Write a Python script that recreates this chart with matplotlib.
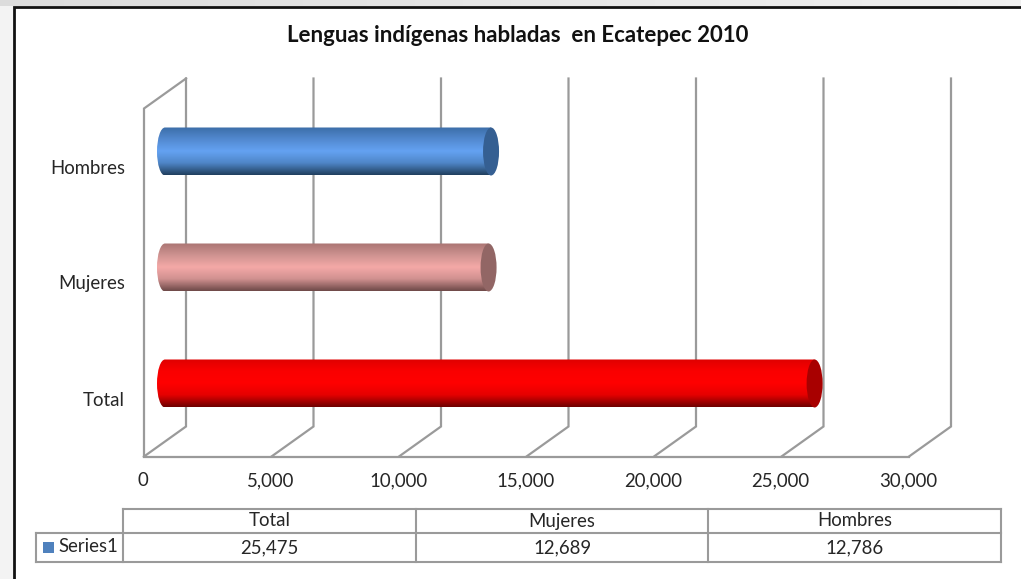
import numpy as np
import matplotlib
matplotlib.use("Agg")
import matplotlib.pyplot as plt
from matplotlib.colors import LinearSegmentedColormap
from matplotlib.patches import Ellipse, PathPatch, Rectangle
from matplotlib.path import Path as MplPath

plt.rcParams["font.family"] = ["Lato", "DejaVu Sans"]

TITLE = "Lenguas indígenas habladas  en Ecatepec 2010"
categories = ["Total", "Mujeres", "Hombres"]
values = [25475, 12689, 12786]
x_ticks = [0, 5000, 10000, 15000, 20000, 25000, 30000]
series_name = "Series1"

W, H = 1021, 579
GRID = "#9a9a9a"
TEXT = "#262626"
FS = 13.4

# shaft colours top -> middle -> bottom, plus the end cap
bar_shades = [
    ["#e00000", "#fa0000", "#ff0000", "#e60000", "#700000"],
    ["#ab7573", "#cf9391", "#f4a9a7", "#d09190", "#6f4a49"],
    ["#3c6ea8", "#5289d0", "#64a2f2", "#4f86c8", "#21405f"],
]
cap_colors = ["#a80000", "#926665", "#355f92"]

fig = plt.figure(figsize=(W / 100, H / 100), dpi=100, facecolor="white")


def px_axes(x0, x1, y_top, y_bottom):
    return fig.add_axes([x0 / W, 1 - y_bottom / H, (x1 - x0) / W, (y_bottom - y_top) / H])


# page chrome and table share a pixel-based overlay
page = fig.add_axes([0, 0, 1, 1], zorder=0)
page.axis("off")
strip = LinearSegmentedColormap.from_list("strip", ["#dcdcdc", "#f0f0f0"])
page.imshow(np.linspace(0, 1, 64).reshape(1, -1), cmap=strip, aspect="auto", extent=[0, W, 6, 0])
page.add_patch(Rectangle((0, 6), 13, H, fc="#f3f3f3", ec="none"))
page.plot([14, 14, W], [H, 7, 7], color="#111111", lw=2, solid_joinstyle="miter")
page.set_xlim(0, W)
page.set_ylim(H, 0)

# chart: front floor edge is x 0..30000, one category = one y unit
ax = px_axes(144, 909, 93.5, 441.5)
ax.axis("off")
ax.patch.set_alpha(0)
ax.set_zorder(1)

xpx = 30000 / 765
ypx = 1 / 116
dx = 21 * xpx       # half of the 3d depth
dy = 15 * ypx
y_low = -0.5
y_high = 2.5

# walls
for tick in x_ticks:
    ax.plot([tick, tick + 2 * dx, tick + 2 * dx],
            [y_low - dy, y_low + dy, y_high + dy],
            color=GRID, lw=1.6, clip_on=False, solid_joinstyle="miter")
ax.plot([0, 0, 2 * dx], [y_low - dy, y_high - dy, y_high + dy],
        color=GRID, lw=1.6, clip_on=False, solid_joinstyle="miter")
ax.plot([x_ticks[0], x_ticks[-1]], [y_low - dy, y_low - dy], color=GRID, lw=1.6, clip_on=False)

# cylinders
half_h = 24 * ypx
half_w = 8 * xpx
for i, (val, shades, cap) in enumerate(zip(values, bar_shades, cap_colors)):
    x0, x1 = dx, val + dx
    yb, yt = i - half_h, i + half_h
    k = 0.5523
    path = MplPath(
        [(x0, yb), (x1, yb), (x1, yt), (x0, yt),
         (x0 - k * half_w, yt), (x0 - half_w, i + k * half_h), (x0 - half_w, i),
         (x0 - half_w, i - k * half_h), (x0 - k * half_w, yb), (x0, yb), (x0, yb)],
        [MplPath.MOVETO, MplPath.LINETO, MplPath.LINETO, MplPath.LINETO,
         MplPath.CURVE4, MplPath.CURVE4, MplPath.CURVE4,
         MplPath.CURVE4, MplPath.CURVE4, MplPath.CURVE4, MplPath.CLOSEPOLY],
    )
    cmap = LinearSegmentedColormap.from_list("shaft", shades)
    clip = PathPatch(path, transform=ax.transData, fc="none", ec="none")
    ax.add_patch(clip)
    im = ax.imshow(np.linspace(0, 1, 96).reshape(-1, 1), cmap=cmap, aspect="auto",
                   extent=[x0 - half_w, x1, yb, yt], origin="upper", zorder=3, interpolation="bilinear")
    im.set_clip_path(clip)
    ax.add_patch(Ellipse((x1, i), 2 * half_w, 2 * half_h, fc=cap, ec="none", zorder=4))

ax.set_xlim(0, 30000)
ax.set_ylim(-0.5, 2.5)

# labels
for i, name in enumerate(categories):
    page.text(125, 400 - i * 116, name, ha="right", va="center", fontsize=FS, color=TEXT)
for tick in x_ticks:
    ax.annotate(f"{tick:,}", (tick, y_low - dy), xytext=(-1, -24), textcoords="offset pixels",
                ha="center", va="center", fontsize=FS, color=TEXT, annotation_clip=False)

page.text(518, 35, TITLE, ha="center", va="center", fontsize=16, fontweight="bold", color="#111111")

# data table
col_edges = [123, 416, 708, 1001]
row_edges = [509, 533, 562]
line = dict(color=GRID, lw=1.5, solid_capstyle="projecting")
page.plot([col_edges[0], col_edges[-1]], [row_edges[0]] * 2, **line)
page.plot([36, col_edges[-1]], [row_edges[1]] * 2, **line)
page.plot([36, col_edges[-1]], [row_edges[2]] * 2, **line)
page.plot([36, 36], row_edges[1:], **line)
for edge in col_edges:
    page.plot([edge, edge], [row_edges[0], row_edges[2]], **line)
for j, (name, val) in enumerate(zip(categories, values)):
    xc = (col_edges[j] + col_edges[j + 1]) / 2
    page.text(xc, 521, name, ha="center", va="center", fontsize=FS, color=TEXT)
    page.text(xc, 547.5, f"{val:,}", ha="center", va="center", fontsize=FS, color=TEXT)
page.add_patch(Rectangle((43, 542), 11, 11, fc="#4f81bd", ec="none"))
page.text(58, 547, series_name, ha="left", va="center", fontsize=FS, color=TEXT)

fig.savefig("out.png", dpi=100)
